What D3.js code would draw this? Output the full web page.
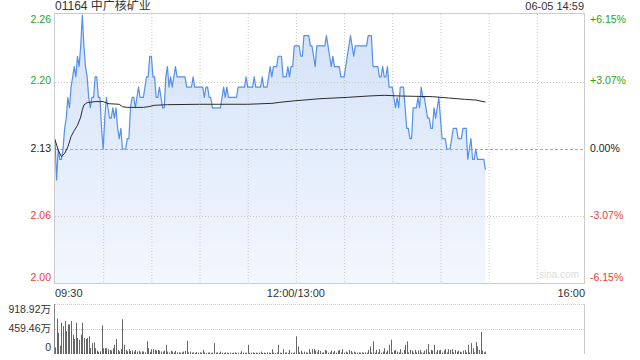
<!DOCTYPE html>
<html>
<head>
<meta charset="utf-8">
<script src="https://cdn.jsdelivr.net/npm/d3@7"></script>
<style>
    body { margin: 0; background: #fff; }
    svg { display: block; font-family: "Liberation Sans", Arial, "Noto Sans CJK SC", sans-serif; }
</style>
</head>
<body>
<div id="chart"></div>
<script>
// Header text
const stockName = "01164 中广核矿业";
const timeStamp = "06-05 14:59";
const prevClose = 2.13;

// Axis labels
const priceLabels = ["2.26", "2.20", "2.13", "2.06", "2.00"];
const pctTicks = [6.15, 3.07, 0, -3.07, -6.15];
const pctLabels = ["+6.15%", "+3.07%", "0.00%", "-3.07%", "-6.15%"];
const timeLabels = ["09:30", "12:00/13:00", "16:00"];
const timeLabelMinutes = [0, 150, 330];
const volLabels = ["918.92万", "459.46万", "0"];
const volTicks = [918.92, 459.46, 0];

// Price, one value per trading minute (0 = 09:30, 150 = 13:00)
const prices = [
    2.14, 2.10, 2.13, 2.12, 2.12, 2.13, 2.15, 2.16, 2.18, 2.17,
    2.19, 2.20, 2.21, 2.20, 2.22, 2.21, 2.23, 2.26, 2.23, 2.21,
    2.20, 2.18, 2.17, 2.18, 2.18, 2.20, 2.20, 2.18, 2.18, 2.15,
    2.13, 2.16, 2.18, 2.17, 2.16, 2.16, 2.17, 2.16, 2.17, 2.15,
    2.14, 2.15, 2.13, 2.13, 2.13, 2.14, 2.14, 2.17, 2.18, 2.18,
    2.17, 2.18, 2.19, 2.18, 2.18, 2.18, 2.19, 2.20, 2.20, 2.22,
    2.22, 2.20, 2.20, 2.18, 2.18, 2.19, 2.18, 2.17, 2.17, 2.20,
    2.21, 2.19, 2.20, 2.19, 2.20, 2.21, 2.20, 2.20, 2.20, 2.20,
    2.20, 2.20, 2.19, 2.19, 2.19, 2.19, 2.20, 2.19, 2.19, 2.19,
    2.19, 2.19, 2.19, 2.18, 2.19, 2.19, 2.18, 2.18, 2.17, 2.17,
    2.17, 2.17, 2.17, 2.17, 2.18, 2.19, 2.18, 2.19, 2.18, 2.18,
    2.18, 2.18, 2.18, 2.18, 2.19, 2.19, 2.19, 2.19, 2.19, 2.20,
    2.19, 2.19, 2.19, 2.19, 2.20, 2.19, 2.19, 2.19, 2.19, 2.20,
    2.19, 2.19, 2.19, 2.20, 2.21, 2.20, 2.21, 2.21, 2.21, 2.22,
    2.22, 2.22, 2.20, 2.20, 2.20, 2.21, 2.20, 2.21, 2.21, 2.23,
    2.23, 2.23, 2.23, 2.22, 2.22, 2.24, 2.24, 2.24, 2.24, 2.23,
    2.23, 2.22, 2.21, 2.23, 2.23, 2.23, 2.23, 2.23, 2.23, 2.24,
    2.23, 2.22, 2.21, 2.22, 2.21, 2.21, 2.21, 2.21, 2.20, 2.20,
    2.20, 2.21, 2.22, 2.23, 2.24, 2.23, 2.22, 2.23, 2.23, 2.23,
    2.23, 2.23, 2.23, 2.23, 2.23, 2.24, 2.24, 2.24, 2.21, 2.21,
    2.21, 2.21, 2.20, 2.20, 2.21, 2.20, 2.20, 2.21, 2.19, 2.19,
    2.19, 2.18, 2.17, 2.18, 2.17, 2.19, 2.19, 2.19, 2.17, 2.15,
    2.15, 2.14, 2.14, 2.17, 2.17, 2.17, 2.18, 2.17, 2.19, 2.18,
    2.18, 2.17, 2.16, 2.16, 2.15, 2.15, 2.17, 2.16, 2.17, 2.18,
    2.16, 2.14, 2.14, 2.14, 2.13, 2.13, 2.13, 2.14, 2.15, 2.15,
    2.15, 2.14, 2.14, 2.14, 2.15, 2.15, 2.15, 2.12, 2.13, 2.14,
    2.12, 2.12, 2.13, 2.12, 2.12, 2.12, 2.12, 2.12, 2.11
];

// Average price line, read at its turning points
const avgMinutes = [0, 2, 4, 6, 8, 10, 12, 14, 16, 17, 18, 20, 25, 30, 33, 40, 42, 45, 55, 58, 62, 70,
    90, 120, 135, 140, 150, 155, 165, 182, 195, 205, 215, 235, 245, 255, 262, 268];
const avgPrices = [2.139, 2.129, 2.1225, 2.1258, 2.132, 2.142, 2.148, 2.153, 2.161, 2.168, 2.1727, 2.175,
    2.176, 2.176, 2.174, 2.1734, 2.171, 2.1704, 2.1704, 2.171, 2.1724, 2.173,
    2.1734, 2.1734, 2.1743, 2.1753, 2.1769, 2.1775, 2.1788, 2.1801, 2.1814, 2.1821,
    2.1814, 2.1808, 2.1795, 2.1782, 2.1775, 2.1756];

// Volume per minute, in 万
const volumes = [
    120, 650, 388, 150, 575, 513, 606, 419, 544, 544,
    606, 356, 275, 575, 294, 263, 356, 575, 294, 275,
    294, 325, 106, 200, 213, 106, 63, 40, 50, 525,
    106, 106, 106, 88, 75, 63, 106, 169, 275, 75,
    50, 88, 638, 169, 75, 50, 88, 56, 63, 44,
    75, 44, 63, 30, 50, 44, 30, 231, 106, 40,
    88, 88, 75, 63, 75, 63, 44, 44, 63, 169,
    44, 30, 63, 44, 30, 56, 30, 31, 25, 31,
    44, 56, 244, 30, 44, 25, 30, 20, 35, 25,
    30, 25, 75, 30, 20, 25, 30, 20, 25, 200,
    25, 30, 20, 44, 25, 20, 30, 25, 20, 25,
    20, 25, 30, 20, 25, 20, 50, 25, 20, 25,
    169, 20, 25, 30, 20, 25, 20, 25, 44, 20,
    25, 20, 30, 25, 20, 88, 25, 20, 30, 169,
    25, 20, 88, 25, 30, 20, 75, 25, 20, 30,
    325, 138, 30, 63, 25, 44, 30, 25, 88, 30,
    88, 88, 63, 30, 75, 56, 25, 30, 75, 63,
    25, 30, 63, 30, 56, 25, 63, 75, 30, 88,
    25, 44, 30, 75, 56, 25, 44, 30, 25, 30,
    25, 30, 25, 30, 25, 75, 138, 30, 231, 25,
    75, 30, 88, 25, 44, 106, 30, 63, 169, 263,
    30, 63, 75, 44, 30, 88, 25, 75, 169, 231,
    30, 75, 63, 25, 75, 30, 63, 75, 30, 25,
    63, 88, 181, 30, 75, 63, 169, 30, 75, 63,
    75, 30, 63, 88, 30, 88, 75, 88, 30, 75,
    44, 63, 44, 30, 63, 75, 30, 169, 30, 200,
    106, 30, 219, 138, 75, 406, 63, 30, 44
];

const width = 640, height = 360;
const plot = { left: 55, right: 585, top: 14, bottom: 284 };
const volPlot = { top: 304, bottom: 354 };

const green = "#1ea31e", red = "#f03a3a", dark = "#333";
const tickColor = v => v > 0 ? green : (v < 0 ? red : "#222");

const svg = d3.select("#chart").append("svg")
    .attr("width", width)
    .attr("height", height);

// Scales
const x = d3.scaleLinear().domain([0, 330]).range([plot.left, plot.right]);
const yPct = d3.scaleLinear().domain([-6.15, 6.15]).range([plot.bottom, plot.top]);
const y = p => yPct((p / prevClose - 1) * 100);
const yVol = d3.scaleLinear().domain([0, 918.92]).range([volPlot.bottom, volPlot.top]);

// Title and time stamp
svg.append("text")
    .attr("x", plot.left).attr("y", 7)
    .attr("dominant-baseline", "middle")
    .attr("font-size", 12).attr("fill", dark)
    .text(stockName);

svg.append("text")
    .attr("x", plot.right - 1).attr("y", 7)
    .attr("dominant-baseline", "middle")
    .attr("text-anchor", "end")
    .attr("font-size", 11).attr("fill", dark)
    .text(timeStamp);

// Area under the price line
const defs = svg.append("defs");
const grad = defs.append("linearGradient")
    .attr("id", "fillGrad")
    .attr("x1", 0).attr("y1", 0).attr("x2", 0).attr("y2", 1);
grad.append("stop").attr("offset", "0%").attr("stop-color", "#d3e2f8");
grad.append("stop").attr("offset", "100%").attr("stop-color", "#f3f7fe");

const area = d3.area()
    .x((d, i) => x(i))
    .y0(plot.bottom)
    .y1(d => y(d));

svg.append("path")
    .datum(prices)
    .attr("d", area)
    .attr("fill", "url(#fillGrad)");

// Grid, drawn over the fill
const grid = svg.append("g");
grid.selectAll("line.v")
    .data(d3.range(30, 330, 30))
    .join("line")
    .attr("x1", d => x(d) + 0.5).attr("x2", d => x(d) + 0.5)
    .attr("y1", plot.top).attr("y2", plot.bottom)
    .attr("stroke", "#c8c8c8")
    .attr("stroke-dasharray", "1,2");

grid.selectAll("line.h")
    .data(pctTicks.slice(1, 4))
    .join("line")
    .attr("x1", plot.left).attr("x2", plot.right)
    .attr("y1", d => Math.round(yPct(d)) + 0.5).attr("y2", d => Math.round(yPct(d)) + 0.5)
    .attr("stroke", d => d === 0 ? "#aaa" : "#c8c8c8")
    .attr("stroke-dasharray", d => d === 0 ? "3,2" : "1,2");

// Watermark
svg.append("text")
    .attr("x", plot.right - 6).attr("y", plot.bottom - 6)
    .attr("text-anchor", "end")
    .attr("font-size", 10).attr("fill", "#ddd")
    .text("sina.com");

// Price line
const line = d3.line()
    .x((d, i) => x(i))
    .y(d => y(d));

svg.append("path")
    .datum(prices)
    .attr("d", line)
    .attr("fill", "none")
    .attr("stroke", "#5490ea")
    .attr("stroke-width", 1.2)
    .attr("stroke-linejoin", "round");

// Average line
svg.append("path")
    .datum(avgMinutes.map((m, i) => [m, avgPrices[i]]))
    .attr("d", d3.line().x(d => x(d[0])).y(d => y(d[1])))
    .attr("fill", "none")
    .attr("stroke", "#2b2b2b")
    .attr("stroke-width", 1);

// Plot frame
svg.append("rect")
    .attr("x", plot.left - 0.5).attr("y", plot.top - 0.5)
    .attr("width", plot.right - plot.left).attr("height", plot.bottom - plot.top)
    .attr("fill", "none")
    .attr("stroke", "#ccc");

// Price labels (left) and percent labels (right)
const clampY = v => Math.min(Math.max(v, plot.top + 6), plot.bottom - 6);
svg.selectAll("text.price")
    .data(pctTicks)
    .join("text")
    .attr("x", plot.left - 4)
    .attr("y", d => clampY(yPct(d)))
    .attr("dominant-baseline", "middle")
    .attr("text-anchor", "end")
    .attr("font-size", 10.5)
    .attr("fill", d => tickColor(d))
    .text((d, i) => priceLabels[i]);

svg.selectAll("text.pct")
    .data(pctTicks)
    .join("text")
    .attr("x", plot.right + 5)
    .attr("y", d => clampY(yPct(d)))
    .attr("dominant-baseline", "middle")
    .attr("font-size", 10.5)
    .attr("fill", d => tickColor(d))
    .text((d, i) => pctLabels[i]);

// Time labels
svg.selectAll("text.time")
    .data(timeLabelMinutes)
    .join("text")
    .attr("x", d => x(d))
    .attr("y", plot.bottom + 10)
    .attr("dominant-baseline", "middle")
    .attr("text-anchor", (d, i) => i === 0 ? "start" : (i === 2 ? "end" : "middle"))
    .attr("font-size", 11)
    .attr("fill", dark)
    .text((d, i) => timeLabels[i]);

// Volume panel
const volGrid = svg.append("g");
volGrid.selectAll("line")
    .data(volTicks.slice(0, 2))
    .join("line")
    .attr("x1", plot.left).attr("x2", plot.right)
    .attr("y1", d => Math.round(yVol(d)) + 0.5).attr("y2", d => Math.round(yVol(d)) + 0.5)
    .attr("stroke", "#ccc")
    .attr("stroke-dasharray", "1,1");

svg.append("line")
    .attr("x1", plot.right - 0.5).attr("x2", plot.right - 0.5)
    .attr("y1", volPlot.top).attr("y2", volPlot.bottom)
    .attr("stroke", "#ccc");

svg.append("g")
    .selectAll("line")
    .data(volumes)
    .join("line")
    .attr("x1", (d, i) => Math.round(x(i)) + 0.5)
    .attr("x2", (d, i) => Math.round(x(i)) + 0.5)
    .attr("y1", volPlot.bottom)
    .attr("y2", d => yVol(d))
    .attr("stroke", "#666")
    .attr("stroke-width", 1);

svg.append("line")
    .attr("x1", plot.left - 0.5).attr("x2", plot.left - 0.5)
    .attr("y1", volPlot.top).attr("y2", volPlot.bottom)
    .attr("stroke", "#888");

const clampVol = v => Math.min(Math.max(v, volPlot.top + 6), volPlot.bottom - 6);
svg.selectAll("text.vol")
    .data(volTicks)
    .join("text")
    .attr("x", plot.left - 4)
    .attr("y", d => clampVol(yVol(d)))
    .attr("dominant-baseline", "middle")
    .attr("text-anchor", "end")
    .attr("font-size", 10.5)
    .attr("fill", dark)
    .text((d, i) => volLabels[i]);
</script>
</body>
</html>
